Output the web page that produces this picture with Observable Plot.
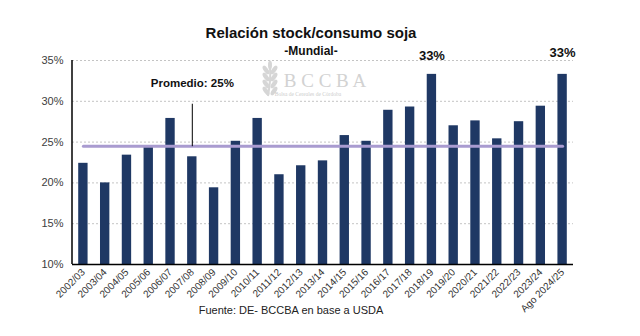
<!DOCTYPE html>
<html>
<head>
<meta charset="utf-8">
<script src="https://cdn.jsdelivr.net/npm/d3@7"></script>
<script src="https://cdn.jsdelivr.net/npm/@observablehq/plot@0.6"></script>
<style>
  html, body { margin: 0; padding: 0; background: white; }
</style>
</head>
<body>
<div id="chart"></div>
<script>
const categories = ["2002/03","2003/04","2004/05","2005/06","2006/07","2007/08","2008/09","2009/10","2010/11","2011/12","2012/13","2013/14","2014/15","2015/16","2016/17","2017/18","2018/19","2019/20","2020/21","2021/22","2022/23","2023/24","Ago 2024/25"];
const values = [22.4,20.0,23.4,24.4,27.9,23.2,19.4,25.1,27.9,21.0,22.1,22.7,25.8,25.1,28.9,29.3,33.3,27.0,27.6,25.4,27.5,29.4,33.3];
const average = 24.5;
const averageLabel = "Promedio: 25%";
const yTicks = [10, 15, 20, 25, 30, 35];
const peakCats = ["2018/19", "Ago 2024/25"];
const title = "Relación stock/consumo soja";
const subtitle = "-Mundial-";
const caption = "Fuente: DE- BCCBA en base a USDA";

const data = categories.map((c, i) => ({cat: c, value: values[i]}));
const avgData = categories.map(c => ({cat: c, value: average}));
const fontSans = "'Liberation Sans', Arial, sans-serif";

const leftAxis = (index, scales, vals, dims) => {
  const l = d3.create("svg:line")
    .attr("x1", dims.marginLeft).attr("x2", dims.marginLeft)
    .attr("y1", dims.marginTop).attr("y2", dims.height - dims.marginBottom)
    .attr("stroke", "black").attr("stroke-width", 1.5);
  return l.node();
};

// decorative wheat logo of the watermark
const wheatLogo = (index, scales, vals, dims) => {
  const g = d3.create("svg:g").attr("fill", "#d6d6d6").attr("stroke", "none");
  const cx = 270, top = 62, bottom = 96;
  g.append("path").attr("d", `M${cx} ${top + 6} Q${cx + 1} ${(top + bottom) / 2} ${cx - 2} ${bottom}`)
    .attr("stroke", "#d6d6d6").attr("stroke-width", 2).attr("fill", "none");
  for (let k = 0; k < 4; k++) {
    const yy = top + 8 + k * 7;
    g.append("ellipse").attr("cx", cx - 4).attr("cy", yy).attr("rx", 2.2).attr("ry", 5)
      .attr("transform", `rotate(-35 ${cx - 4} ${yy})`);
    g.append("ellipse").attr("cx", cx + 4).attr("cy", yy).attr("rx", 2.2).attr("ry", 5)
      .attr("transform", `rotate(35 ${cx + 4} ${yy})`);
  }
  g.append("ellipse").attr("cx", cx).attr("cy", top + 3).attr("rx", 2).attr("ry", 4.5);
  return g.node();
};

const chart = Plot.plot({
  width: 640,
  height: 336,
  marginTop: 60,
  marginBottom: 72,
  marginLeft: 72,
  marginRight: 67,
  style: {fontFamily: fontSans, background: "white", overflow: "visible"},
  x: {domain: categories, paddingInner: 0.57, paddingOuter: 0.285, align: 0.5, round: false, label: null, axis: null},
  y: {domain: [yTicks[0], yTicks[yTicks.length - 1]], label: null, axis: null},
  marks: [
    Plot.gridY(yTicks.slice(1), {stroke: "#c4c4c4", strokeOpacity: 1, strokeDasharray: "2,2"}),
    // watermark
    wheatLogo,
    Plot.text(["B C C B A"], {frameAnchor: "top", dx: 2, dy: 13, fontSize: 19, fill: "#d2d2d2", fontFamily: "'Liberation Serif', 'DejaVu Serif', serif"}),
    Plot.text(["Bolsa de Cereales de Córdoba"], {frameAnchor: "top", dx: -15, dy: 32, fontSize: 5.5, fill: "#cccccc", fontFamily: "'Liberation Serif', 'DejaVu Serif', serif"}),
    Plot.barY(data, {x: "cat", y1: yTicks[0], y2: "value", fill: "#1f3864"}),
    Plot.lineY(avgData, {x: "cat", y: "value", stroke: "#a99bd0", strokeWidth: 3}),
    Plot.ruleY([yTicks[0]], {stroke: "black", strokeWidth: 1.5}),
    leftAxis,
    Plot.axisY({ticks: yTicks, tickFormat: d => d + "%", tickSize: 0, tickPadding: 9, fontSize: 11, fill: "#404040", label: null}),
    Plot.axisX({tickRotate: -45, tickSize: 0, tickPadding: 6, fontSize: 10, fill: "#333", label: null}),
    // average annotation
    Plot.link([averageLabel], {x1: () => "2007/08", x2: () => "2007/08", y1: () => 29.7, y2: () => average, stroke: "black", strokeWidth: 1}),
    Plot.text([averageLabel], {x: () => "2007/08", y: () => 32.2, text: d => d, fontSize: 11.5, fontWeight: "bold", fill: "#111"}),
    // peak labels
    Plot.text(data.filter(d => d.cat === peakCats[0]), {x: "cat", y: "value", text: d => Math.round(d.value) + "%", dy: -19, fontSize: 13, fontWeight: "bold", fill: "#111"}),
    Plot.text(data.filter(d => d.cat === peakCats[1]), {x: "cat", y: "value", text: d => Math.round(d.value) + "%", dy: -22, fontSize: 13, fontWeight: "bold", fill: "#111"}),
    // titles & caption
    Plot.text([title], {frameAnchor: "top", dx: -12, dy: -33, fontSize: 15, fontWeight: "bold", fill: "#111"}),
    Plot.text([subtitle], {frameAnchor: "top", dx: -12, dy: -14, fontSize: 12, fontWeight: "bold", fill: "#111"}),
    Plot.text([caption], {frameAnchor: "bottom", dx: -32, dy: 49, fontSize: 11, fill: "#222"})
  ]
});
document.getElementById("chart").appendChild(chart);
</script>
</body>
</html>
